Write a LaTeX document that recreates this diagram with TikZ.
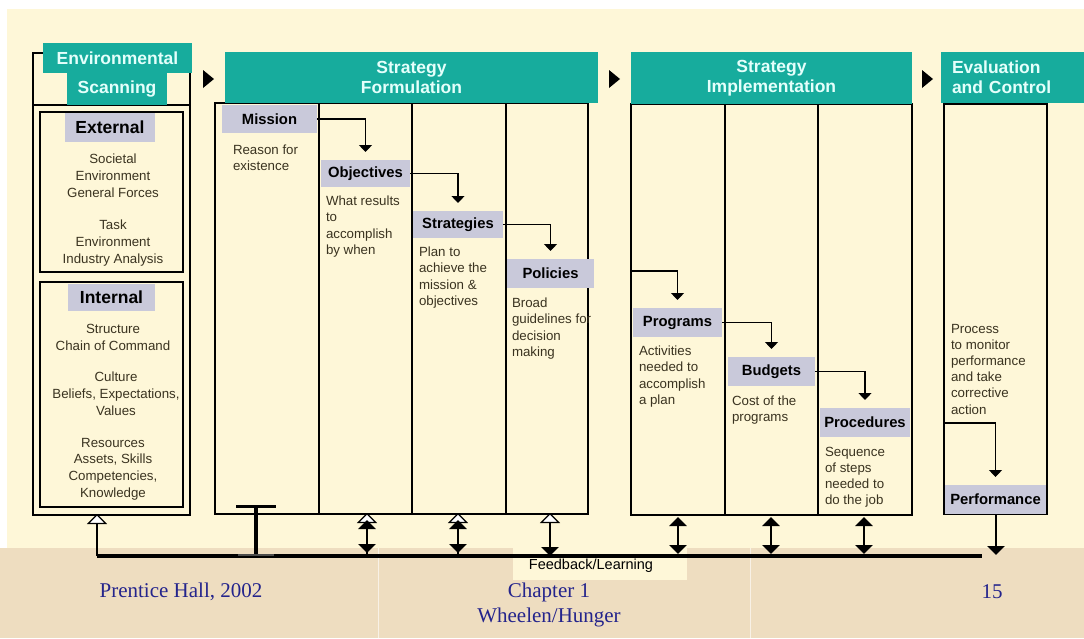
\documentclass[tikz,border=0pt]{standalone}
\usepackage{fontspec}
\setmainfont{Liberation Sans}
\newfontfamily\timesf{Liberation Serif}
\usetikzlibrary{arrows.meta}
\definecolor{cream}{HTML}{FEF7D8}
\definecolor{beige}{HTML}{EEDDC0}
\definecolor{tealc}{HTML}{17AC9D}
\definecolor{hdrtxt}{HTML}{E4FFFB}
\definecolor{lblc}{HTML}{C9C9DA}
\definecolor{bodyc}{HTML}{3A3320}
\definecolor{footc}{HTML}{24248C}
\begin{document}
\begin{tikzpicture}[x=1pt,y=-1pt,
  frame/.style={draw=black, line width=1.2pt},
  hdr/.style={fill=tealc, text=hdrtxt, font=\bfseries\fontsize{17.5}{20}\selectfont, inner sep=0pt, outer sep=0pt, anchor=north west, align=center},
  lbl/.style={fill=lblc, text=black, font=\bfseries\fontsize{14.8}{17}\selectfont, inner sep=0pt, outer sep=0pt, anchor=north west},
  body/.style={text=bodyc, font=\fontsize{13.3}{16.2}\selectfont, inner sep=0pt, outer sep=0pt, align=left, anchor=north west},
  cbody/.style={text=bodyc, font=\fontsize{13.3}{16.8}\selectfont, inner sep=0pt, outer sep=0pt, align=center, anchor=north},
  flow/.style={line width=1.2pt, -{Triangle[width=13pt,length=7pt]}, shorten >=8pt},
  fbline/.style={line width=3.5pt},
  dbl/.style={line width=2.4pt, {Triangle[width=17pt,length=9pt]}-{Triangle[width=17pt,length=9pt]}},
  down/.style={line width=2.4pt, -{Triangle[width=17pt,length=9pt]}},
  hollow/.style={line width=2.4pt, -{Triangle[open, fill=white, line width=1.2pt, width=20pt, length=10pt]}},
  stagearrow/.style={fill=black}
]
\useasboundingbox (0,0) rectangle (1084,638);
% backgrounds
\fill[white] (0,0) rectangle (1084,638);
\fill[cream] (7,9) rectangle (1084,548);
\fill[beige] (0,548) rectangle (1084,638);
\fill[cream] (513,548) rectangle (687,580);
\draw[white!60!beige, line width=1pt] (378,548) -- (378,638);
\draw[white!60!beige, line width=1pt] (750,548) -- (750,638);

% ---------------- Environmental Scanning ----------------
\draw[frame] (33,53) rectangle (190,515);
\draw[frame] (33,105) -- (190,105);
\node[hdr, minimum width=149pt, minimum height=30pt] (envh) at (43,43) {Environmental};
\node[hdr, minimum width=100pt, minimum height=32pt] (scan) at (67,73) {Scanning};
\draw[frame] (40,112) rectangle (183,272);
\draw[frame] (40,282) rectangle (183,507);
\node[lbl, font=\bfseries\fontsize{17.5}{19}\selectfont, minimum width=90pt, minimum height=29pt] (ext) at (65,113) {External};
\node[cbody] (ext1) at (113,154) {Societal\\Environment\\General Forces};
\node[cbody] (ext2) at (113,220) {Task\\Environment\\Industry Analysis};
\node[lbl, font=\bfseries\fontsize{17.5}{19}\selectfont, minimum width=87pt, minimum height=27pt] (int) at (68,284) {Internal};
\node[cbody] (int1) at (113,324) {Structure\\Chain of Command};
\node[cbody] (int2) at (116,372) {Culture\\Beliefs, Expectations,\\Values};
\node[cbody] (int3) at (113,438) {Resources\\Assets, Skills\\Competencies,\\Knowledge};

% stage arrows
\fill[stagearrow] (203,70) -- (214,79) -- (203,88) -- cycle;
\fill[stagearrow] (609,70) -- (620,79) -- (609,88) -- cycle;
\fill[stagearrow] (922,70) -- (933,79) -- (922,88) -- cycle;

% ---------------- Strategy Formulation ----------------
\draw[frame] (215,103) rectangle (588,514);
\foreach \xx in {319,412,506} \draw[frame] (\xx,103) -- (\xx,514);
\node[hdr, minimum width=373pt, minimum height=51pt] (sfh) at (225,52) {Strategy\\Formulation};

\node[lbl, minimum width=95pt, minimum height=28pt] (mission) at (222,105) {Mission};
\node[body] (missiont) at (233,145) {Reason for\\existence};
\node[lbl, minimum width=89pt, minimum height=27pt] (objectives) at (321,160) {Objectives};
\node[body] (objt) at (326,196) {What results\\to\\accomplish\\by when};
\node[lbl, minimum width=90pt, minimum height=27pt] (strategies) at (413,211) {Strategies};
\node[body] (strt) at (419,247) {Plan to\\achieve the\\mission \&\\objectives};
\node[lbl, minimum width=87pt, minimum height=29pt] (policies) at (507,259) {Policies};
\node[body] (polt) at (512,298) {Broad\\guidelines for\\decision\\making};

\draw[flow] (mission.east) -| (objectives.north);
\draw[flow] (objectives.east) -| (strategies.north);
\draw[flow] (strategies.east) -| (policies.north);

% ---------------- Strategy Implementation ----------------
\draw[frame] (631,104) rectangle (912,515);
\foreach \xx in {725,818} \draw[frame] (\xx,104) -- (\xx,515);
\node[hdr, minimum width=281pt, minimum height=52pt] (sih) at (631,52) {Strategy\\Implementation};

\coordinate (progin) at (632,271);
\node[lbl, minimum width=89pt, minimum height=29pt] (programs) at (633,308) {Programs};
\node[body] (progt) at (639,346) {Activities\\needed to\\accomplish\\a plan};
\node[lbl, minimum width=87pt, minimum height=29pt] (budgets) at (728,357) {Budgets};
\node[body] (budt) at (732,396) {Cost of the\\programs};
\node[lbl, minimum width=90pt, minimum height=29pt] (procedures) at (820,408) {Procedures};
\node[body] (proct) at (825,447) {Sequence\\of steps\\needed to\\do the job};

\draw[flow] (progin) -| (programs.north);
\draw[flow] (programs.east) -| (budgets.north);
\draw[flow] (budgets.east) -| (procedures.north);

% ---------------- Evaluation and Control ----------------
\draw[frame] (944,104) rectangle (1047,514);
\node[hdr, minimum width=136pt, minimum height=51pt, align=left, text width=124pt, inner xsep=11pt] (ech) at (941,52) {Evaluation\\and Control};
\node[body] (evalt) at (951,324) {Process\\to monitor\\performance\\and take\\corrective\\action};
\coordinate (perfin) at (944,423);
\node[lbl, minimum width=101pt, minimum height=29pt] (performance) at (945,485) {Performance};
\draw[flow] (perfin) -| (performance.north);

% ---------------- Feedback / Learning ----------------
\coordinate (fbL) at (97,556);
\coordinate (fbR) at (982,556);
\draw[fbline] (fbL) -- (fbR);
\coordinate (envbot) at (97,514);
\draw[hollow] (fbL) -- (envbot);

% mission bar
\coordinate (barB) at (256,556);
\coordinate (barT) at (256,507);
\draw[line width=4pt] (barB) -- (barT);
\draw[line width=3pt] (236,506) -- (276,506);
\draw[line width=2pt, black!70] (238,555) -- (274,555);

% formulation feedback arrows
\foreach \xx/\nm in {367/a,458/b} {
  \coordinate (fb\nm) at (\xx,556);
  \coordinate (top\nm) at (\xx,513);
  \draw[hollow] (fb\nm) -- (top\nm);
  \draw[dbl] (\xx,553) -- (\xx,520);
}
\coordinate (fbc) at (550,556);
\coordinate (topc) at (550,513);
\draw[hollow] (fbc) -- (topc);
\draw[down] (550,524) -- (550,556);

% implementation feedback arrows
\foreach \xx/\nm in {678/d,771/e,864/f} {
  \coordinate (top\nm) at (\xx,517);
  \coordinate (fb\nm) at (\xx,554);
  \draw[dbl] (fb\nm) -- (top\nm);
}
\coordinate (perfbot) at (996,515);
\coordinate (perffb) at (996,555);
\draw[down] (perfbot) -- (perffb);

\node[text=black, font=\fontsize{14.5}{16}\selectfont, inner sep=0pt] (fbl) at (591,566) {Feedback/Learning};

% footer
\node[text=footc, font=\timesf\fontsize{21}{25}\selectfont, inner sep=0pt] (f1) at (181,592) {Prentice Hall, 2002};
\node[text=footc, font=\timesf\fontsize{21}{25}\selectfont, inner sep=0pt, align=center, anchor=north] (f2) at (549,583) {Chapter 1\\Wheelen/Hunger};
\node[text=footc, font=\timesf\fontsize{21}{25}\selectfont, inner sep=0pt] (f3) at (992,592) {15};
\end{tikzpicture}
\end{document}
